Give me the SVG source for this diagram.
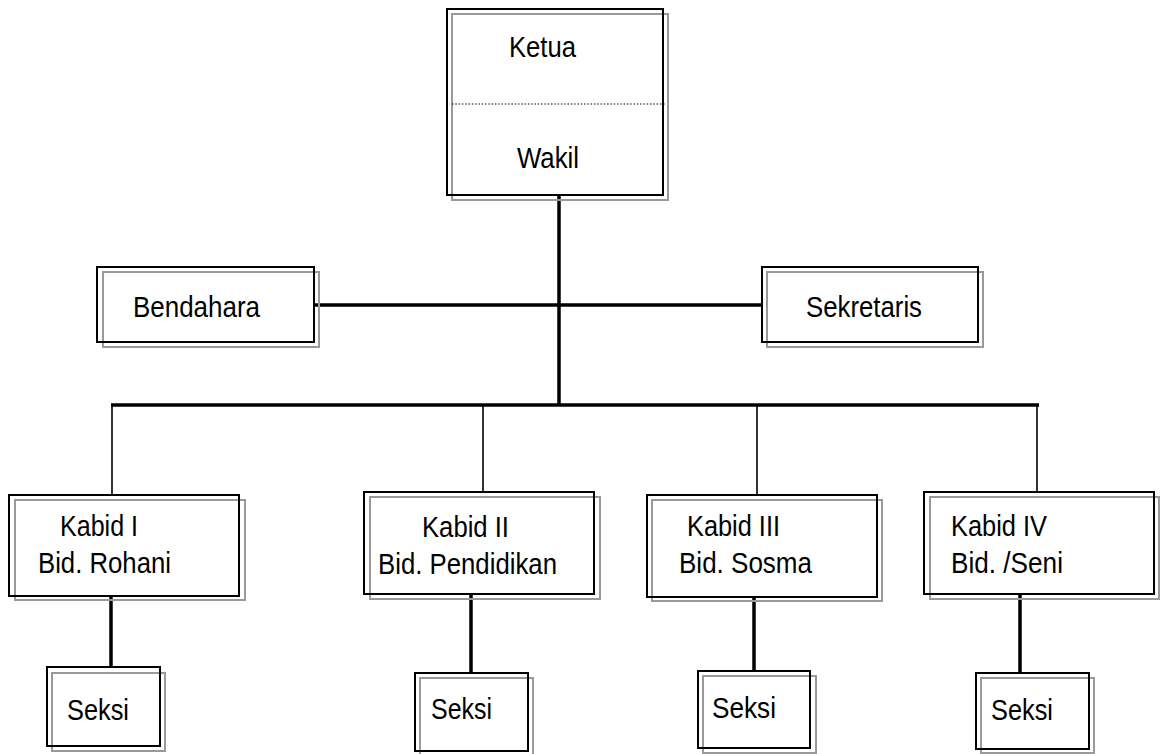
<svg xmlns="http://www.w3.org/2000/svg" width="1160" height="754" viewBox="0 0 1160 754">
<style>
.sh{fill:none;stroke:#9a9a9a;stroke-width:2}
.bx{fill:none;stroke:#000;stroke-width:2}
.t{font-family:"Liberation Sans",Arial,sans-serif;font-size:30px;fill:#000}
.thick{stroke:#000;stroke-width:3.5;fill:none}
.thin{stroke:#000;stroke-width:1.6;fill:none}
</style>
<rect width="1160" height="754" fill="#fff"/>
<g id="connectors">
<line class="thick" x1="559" y1="195" x2="559" y2="406"/>
<line class="thick" x1="314" y1="305" x2="762" y2="305"/>
<line class="thick" x1="111" y1="405" x2="1039" y2="405"/>
<line class="thin" x1="112" y1="405" x2="112" y2="495"/>
<line class="thin" x1="483" y1="405" x2="483" y2="492"/>
<line class="thin" x1="757" y1="405" x2="757" y2="495"/>
<line class="thin" x1="1037" y1="405" x2="1037" y2="492"/>
<line class="thick" x1="111" y1="596" x2="111" y2="667"/>
<line class="thick" x1="471" y1="594" x2="471" y2="673"/>
<line class="thick" x1="754" y1="597" x2="754" y2="671"/>
<line class="thick" x1="1020" y1="594" x2="1020" y2="673"/>
</g>
<g id="ketua">
<rect class="sh" x="452" y="14" width="216" height="186"/>
<rect class="bx" x="447" y="9" width="216" height="186"/>
<line x1="452" y1="104" x2="666" y2="104" stroke="#000" stroke-width="1.2" stroke-dasharray="1.5 1.8"/>
<text class="t" x="509" y="57" textLength="67" lengthAdjust="spacingAndGlyphs">Ketua</text>
<text class="t" x="517" y="168" textLength="62" lengthAdjust="spacingAndGlyphs">Wakil</text>
</g>
<g id="bendahara">
<rect class="sh" x="103" y="272" width="216" height="75"/>
<rect class="bx" x="97" y="267" width="217" height="75"/>
<text class="t" x="133" y="317" textLength="127" lengthAdjust="spacingAndGlyphs">Bendahara</text>
</g>
<g id="sekretaris">
<rect class="sh" x="767" y="272" width="216" height="75"/>
<rect class="bx" x="762" y="267" width="216" height="75"/>
<text class="t" x="806" y="317" textLength="116" lengthAdjust="spacingAndGlyphs">Sekretaris</text>
</g>
<g id="kabid1">
<rect class="sh" x="15" y="500" width="230" height="100"/>
<rect class="bx" x="9" y="495" width="230" height="101"/>
<text class="t" x="60" y="536" textLength="78" lengthAdjust="spacingAndGlyphs">Kabid I</text>
<text class="t" x="38" y="573" textLength="133" lengthAdjust="spacingAndGlyphs">Bid. Rohani</text>
</g>
<g id="kabid2">
<rect class="sh" x="370" y="497" width="230" height="102"/>
<rect class="bx" x="364" y="492" width="230" height="102"/>
<text class="t" x="422" y="537" textLength="87" lengthAdjust="spacingAndGlyphs">Kabid II</text>
<text class="t" x="378" y="574" textLength="179" lengthAdjust="spacingAndGlyphs">Bid. Pendidikan</text>
</g>
<g id="kabid3">
<rect class="sh" x="652" y="500" width="230" height="101"/>
<rect class="bx" x="647" y="495" width="230" height="102"/>
<text class="t" x="687" y="536" textLength="93" lengthAdjust="spacingAndGlyphs">Kabid III</text>
<text class="t" x="679" y="573" textLength="133" lengthAdjust="spacingAndGlyphs">Bid. Sosma</text>
</g>
<g id="kabid4">
<rect class="sh" x="930" y="497" width="229" height="102"/>
<rect class="bx" x="924" y="492" width="230" height="102"/>
<text class="t" x="951" y="536" textLength="96" lengthAdjust="spacingAndGlyphs">Kabid IV</text>
<text class="t" x="951" y="573" textLength="112" lengthAdjust="spacingAndGlyphs">Bid. /Seni</text>
</g>
<g id="seksi1">
<rect class="sh" x="52" y="673" width="113" height="78"/>
<rect class="bx" x="47" y="667" width="113" height="79"/>
<text class="t" x="67" y="720" textLength="62" lengthAdjust="spacingAndGlyphs">Seksi</text>
</g>
<g id="seksi2">
<rect class="sh" x="420" y="678" width="113" height="77"/>
<rect class="bx" x="415" y="673" width="113" height="78"/>
<text class="t" x="431" y="719" textLength="61" lengthAdjust="spacingAndGlyphs">Seksi</text>
</g>
<g id="seksi3">
<rect class="sh" x="703" y="676" width="113" height="77"/>
<rect class="bx" x="698" y="671" width="112" height="77"/>
<text class="t" x="712" y="718" textLength="64" lengthAdjust="spacingAndGlyphs">Seksi</text>
</g>
<g id="seksi4">
<rect class="sh" x="981" y="678" width="113" height="75"/>
<rect class="bx" x="976" y="673" width="113" height="76"/>
<text class="t" x="991" y="720" textLength="62" lengthAdjust="spacingAndGlyphs">Seksi</text>
</g>
</svg>
